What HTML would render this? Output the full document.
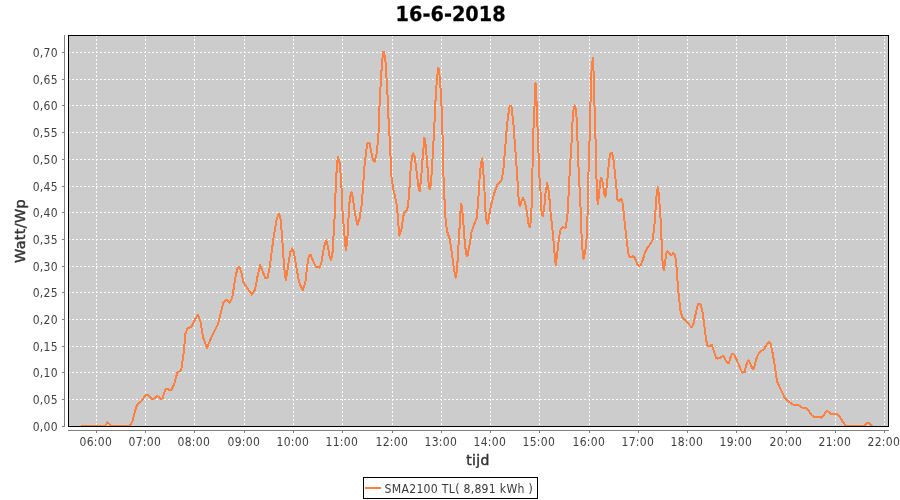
<!DOCTYPE html>
<html lang="nl"><head><meta charset="utf-8"><title>16-6-2018</title>
<style>
html,body{margin:0;padding:0;background:#fff;overflow:hidden}
svg{display:block}
text{filter:grayscale(1)}
.t{font-family:"DejaVu Sans Condensed","DejaVu Sans","Liberation Sans",sans-serif;font-size:12px;letter-spacing:0.3px;fill:#404040}
.a{font-family:"DejaVu Sans","Liberation Sans",sans-serif;font-size:14px;letter-spacing:0.3px;fill:#333;stroke:#333;stroke-width:0.45px}
.b{font-family:"DejaVu Sans Condensed","DejaVu Sans","Liberation Sans",sans-serif;font-weight:bold}
</style></head><body>
<svg width="900" height="500" viewBox="0 0 900 500">
<rect width="900" height="500" fill="#fff"/>
<text class="b" style="font-family:'DejaVu Sans',sans-serif" text-rendering="geometricPrecision" x="450.6" y="21" font-size="20.7" text-anchor="middle" fill="#000" stroke="#000" stroke-width="0.3" textLength="110" lengthAdjust="spacingAndGlyphs">16-6-2018</text>
<rect x="68" y="35" width="821" height="392" fill="#cccccc"/>
<g stroke="#fff" stroke-width="1" stroke-dasharray="2 2" shape-rendering="crispEdges" fill="none">
<line x1="96.5" y1="35" x2="96.5" y2="426"/>
<line x1="145.5" y1="35" x2="145.5" y2="426"/>
<line x1="194.5" y1="35" x2="194.5" y2="426"/>
<line x1="244.5" y1="35" x2="244.5" y2="426"/>
<line x1="293.5" y1="35" x2="293.5" y2="426"/>
<line x1="342.5" y1="35" x2="342.5" y2="426"/>
<line x1="392.5" y1="35" x2="392.5" y2="426"/>
<line x1="441.5" y1="35" x2="441.5" y2="426"/>
<line x1="490.5" y1="35" x2="490.5" y2="426"/>
<line x1="539.5" y1="35" x2="539.5" y2="426"/>
<line x1="589.5" y1="35" x2="589.5" y2="426"/>
<line x1="638.5" y1="35" x2="638.5" y2="426"/>
<line x1="687.5" y1="35" x2="687.5" y2="426"/>
<line x1="736.5" y1="35" x2="736.5" y2="426"/>
<line x1="786.5" y1="35" x2="786.5" y2="426"/>
<line x1="835.5" y1="35" x2="835.5" y2="426"/>
<line x1="884.5" y1="35" x2="884.5" y2="426"/>
<line x1="68" y1="399.5" x2="888" y2="399.5"/>
<line x1="68" y1="372.5" x2="888" y2="372.5"/>
<line x1="68" y1="346.5" x2="888" y2="346.5"/>
<line x1="68" y1="319.5" x2="888" y2="319.5"/>
<line x1="68" y1="292.5" x2="888" y2="292.5"/>
<line x1="68" y1="266.5" x2="888" y2="266.5"/>
<line x1="68" y1="239.5" x2="888" y2="239.5"/>
<line x1="68" y1="212.5" x2="888" y2="212.5"/>
<line x1="68" y1="186.5" x2="888" y2="186.5"/>
<line x1="68" y1="159.5" x2="888" y2="159.5"/>
<line x1="68" y1="132.5" x2="888" y2="132.5"/>
<line x1="68" y1="105.5" x2="888" y2="105.5"/>
<line x1="68" y1="79.5" x2="888" y2="79.5"/>
<line x1="68" y1="52.5" x2="888" y2="52.5"/>
</g>
<clipPath id="c"><rect x="68" y="35" width="821" height="392"/></clipPath>
<polyline clip-path="url(#c)" shape-rendering="crispEdges" fill="none" stroke="#ff8040" stroke-width="2" stroke-linejoin="round" stroke-linecap="round" points="82.1,426.0 104.7,426.0 107.9,422.4 111.3,426.0 129.6,426.0 132.3,421.9 134.9,411.2 137.3,404.4 141.2,401.4 144.7,396.0 147.4,394.6 151.9,398.7 154.5,398.4 157.2,395.7 160.7,398.7 162.5,398.4 165.2,389.5 167.5,388.9 168.8,390.0 171.4,389.8 174.1,384.5 177.3,372.4 181.2,370.2 183.0,357.8 184.2,349.0 185.1,334.7 187.3,328.5 191.4,326.7 194.9,319.6 197.9,314.8 200.2,320.5 202.9,336.5 206.8,348.1 211.8,336.5 218.0,324.1 220.7,313.4 223.4,302.7 226.4,299.7 229.6,302.7 232.3,297.4 235.3,277.8 237.6,268.0 239.4,267.1 241.2,271.6 243.3,282.2 247.4,288.5 251.9,294.7 255.1,289.4 258.1,273.3 260.2,265.0 262.7,271.5 265.3,278.3 267.5,278.3 269.8,266.2 273.3,239.5 276.9,218.1 279.0,213.7 280.5,219.0 282.2,237.7 284.0,266.2 285.8,280.1 287.6,269.7 290.2,251.9 292.4,248.4 294.2,253.7 296.5,268.0 299.1,282.2 302.6,290.2 305.4,282.2 307.2,266.2 308.9,255.5 310.7,254.6 313.4,261.7 316.0,267.1 319.6,267.6 321.4,262.6 324.1,246.6 326.2,240.4 328.0,246.6 329.8,257.3 331.2,259.9 332.6,251.9 333.8,230.6 335.1,209.2 335.7,185.8 336.9,166.3 337.8,156.5 339.6,162.7 341.0,178.7 342.2,200.1 342.4,209.2 344.0,230.6 345.8,250.2 347.2,241.3 348.6,216.4 349.9,196.5 351.5,192.1 352.9,198.3 355.2,214.6 357.5,224.9 359.6,218.1 361.8,203.9 362.7,191.2 364.5,166.3 366.3,150.2 367.5,142.8 369.5,143.1 371.2,151.1 373.0,160.0 374.6,161.8 376.6,153.8 378.4,136.0 379.0,121.0 379.7,100.5 380.9,80.9 381.9,64.0 383.1,52.3 384.0,52.3 385.7,63.1 386.6,79.1 387.7,98.7 388.4,116.5 389.1,129.0 389.8,141.4 390.8,162.7 391.5,176.9 393.0,187.6 394.7,194.7 397.0,206.5 399.3,235.9 401.5,228.8 403.8,213.7 407.3,209.2 409.0,196.0 410.7,168.0 412.2,155.6 413.4,153.5 414.8,157.4 417.0,175.2 418.8,189.4 419.6,191.2 421.1,178.7 422.8,155.6 424.4,137.8 425.9,146.7 427.7,169.8 428.9,187.6 430.0,189.4 431.2,180.5 432.5,159.1 433.9,134.2 434.6,120.0 435.2,105.8 436.4,86.3 437.5,73.8 438.4,67.6 439.6,75.6 440.5,88.0 441.8,111.2 442.3,129.0 442.6,137.8 443.2,169.8 444.4,196.5 445.1,214.6 446.9,230.6 449.6,238.6 451.7,251.9 454.0,269.7 455.8,277.7 457.0,269.7 458.1,251.9 459.4,230.6 460.6,209.2 461.3,203.5 462.9,216.4 464.7,241.3 466.1,253.7 467.4,256.4 469.5,244.8 471.8,230.6 474.1,224.4 476.6,218.1 478.0,203.9 478.8,191.2 480.0,171.6 481.3,161.8 482.2,158.3 483.2,169.8 484.5,191.2 485.2,209.2 486.6,221.7 487.8,223.8 489.3,214.6 491.4,203.9 494.3,193.0 497.5,184.1 501.4,180.5 503.2,171.6 504.9,152.0 506.2,136.0 506.9,126.0 508.1,116.2 509.6,106.4 511.4,106.4 512.6,116.2 513.7,126.9 514.4,137.8 516.2,160.9 517.4,178.7 518.3,194.7 519.2,204.2 520.2,206.0 521.6,200.3 522.9,198.2 524.7,201.2 527.0,212.8 528.8,226.1 530.0,227.6 531.1,218.1 531.8,200.3 532.5,168.0 533.1,137.8 534.6,103.7 535.0,85.9 535.5,83.3 536.2,91.3 537.0,114.4 537.8,134.0 538.4,150.0 539.3,175.2 540.5,191.2 541.2,209.2 542.6,216.4 544.2,209.2 545.3,194.7 547.1,183.2 548.9,192.0 550.6,212.8 552.8,232.4 554.6,253.7 555.8,265.3 557.2,253.7 559.0,237.7 560.8,228.8 562.6,227.0 565.6,227.9 567.4,216.4 568.5,196.0 569.9,168.0 571.3,146.7 572.2,130.7 572.7,118.0 573.6,109.1 574.7,105.5 575.9,109.1 576.7,118.8 577.4,137.8 578.4,164.5 579.7,191.2 580.4,203.9 581.2,227.0 582.1,246.6 583.6,259.1 585.2,251.9 586.6,237.7 587.5,216.4 588.0,192.3 588.9,156.7 589.8,134.0 590.2,116.2 590.9,84.1 591.8,64.6 593.1,58.3 593.6,73.5 594.4,101.9 595.3,134.0 595.7,144.2 596.4,176.3 597.3,197.6 597.8,204.4 599.0,195.8 600.1,181.6 601.4,177.7 602.8,183.4 604.4,194.1 605.4,196.7 606.7,186.9 608.1,170.9 609.4,158.5 610.6,153.1 612.0,152.8 613.5,160.2 615.1,174.5 616.5,188.7 617.4,199.4 618.8,201.2 620.9,198.5 622.3,201.2 623.7,212.5 625.3,228.5 626.7,240.9 628.1,251.6 629.0,256.6 631.1,257.3 633.5,256.0 635.2,258.7 637.4,264.1 639.1,266.2 640.9,264.9 643.1,258.7 645.4,251.6 647.7,247.2 650.7,243.6 652.8,239.1 654.3,226.7 655.5,210.0 656.5,195.8 657.8,187.3 658.8,194.1 659.7,206.5 660.9,223.1 661.7,244.5 662.6,262.3 663.7,270.3 664.9,264.1 666.2,253.4 667.6,251.2 669.4,253.4 671.2,255.5 673.3,253.0 674.7,254.3 676.0,260.5 677.0,273.0 677.8,285.7 679.0,298.1 680.5,310.6 682.2,317.3 685.8,320.4 689.4,324.8 691.7,327.5 693.8,323.0 696.1,311.5 698.3,303.5 700.6,304.4 702.3,310.6 704.5,326.6 706.3,340.8 707.7,346.2 709.5,346.5 711.6,344.8 713.4,349.7 716.0,357.7 717.8,358.6 720.0,357.8 722.7,356.0 724.4,357.8 727.1,362.6 728.9,362.8 730.7,356.9 732.1,353.9 734.2,354.6 736.5,359.6 739.6,366.7 742.2,372.6 744.6,372.4 746.3,364.9 748.5,359.9 750.2,363.1 752.4,368.5 753.8,368.5 755.6,361.4 757.4,356.0 760.0,351.6 763.6,349.8 766.3,345.3 768.9,341.8 770.7,343.6 772.5,352.5 774.3,363.1 775.7,372.0 776.9,380.9 779.6,387.2 782.3,392.5 784.9,398.4 788.5,401.4 793.0,404.6 798.3,404.9 801.9,407.6 806.3,407.6 809.0,411.2 811.6,415.3 814.3,416.9 818.8,416.9 821.8,417.8 824.1,414.7 826.8,410.8 828.9,412.1 831.2,413.8 836.5,413.8 840.1,417.4 842.8,421.9 845.4,425.1 847.2,426.0 864.1,426.0 866.8,423.3 869.1,422.7 872.2,426.0"/>
<rect x="68.5" y="35.5" width="820" height="391" fill="none" stroke="#000" stroke-width="1" shape-rendering="crispEdges"/>
<g stroke="#808080" stroke-width="1" shape-rendering="crispEdges">
<line x1="64.5" y1="35" x2="64.5" y2="427"/>
<line x1="68" y1="430.5" x2="889" y2="430.5"/>
<line x1="96.5" y1="430" x2="96.5" y2="433"/>
<line x1="145.5" y1="430" x2="145.5" y2="433"/>
<line x1="194.5" y1="430" x2="194.5" y2="433"/>
<line x1="244.5" y1="430" x2="244.5" y2="433"/>
<line x1="293.5" y1="430" x2="293.5" y2="433"/>
<line x1="342.5" y1="430" x2="342.5" y2="433"/>
<line x1="392.5" y1="430" x2="392.5" y2="433"/>
<line x1="441.5" y1="430" x2="441.5" y2="433"/>
<line x1="490.5" y1="430" x2="490.5" y2="433"/>
<line x1="539.5" y1="430" x2="539.5" y2="433"/>
<line x1="589.5" y1="430" x2="589.5" y2="433"/>
<line x1="638.5" y1="430" x2="638.5" y2="433"/>
<line x1="687.5" y1="430" x2="687.5" y2="433"/>
<line x1="736.5" y1="430" x2="736.5" y2="433"/>
<line x1="786.5" y1="430" x2="786.5" y2="433"/>
<line x1="835.5" y1="430" x2="835.5" y2="433"/>
<line x1="884.5" y1="430" x2="884.5" y2="433"/>
<line x1="62" y1="426.5" x2="65" y2="426.5"/>
<line x1="62" y1="399.5" x2="65" y2="399.5"/>
<line x1="62" y1="372.5" x2="65" y2="372.5"/>
<line x1="62" y1="346.5" x2="65" y2="346.5"/>
<line x1="62" y1="319.5" x2="65" y2="319.5"/>
<line x1="62" y1="292.5" x2="65" y2="292.5"/>
<line x1="62" y1="266.5" x2="65" y2="266.5"/>
<line x1="62" y1="239.5" x2="65" y2="239.5"/>
<line x1="62" y1="212.5" x2="65" y2="212.5"/>
<line x1="62" y1="186.5" x2="65" y2="186.5"/>
<line x1="62" y1="159.5" x2="65" y2="159.5"/>
<line x1="62" y1="132.5" x2="65" y2="132.5"/>
<line x1="62" y1="105.5" x2="65" y2="105.5"/>
<line x1="62" y1="79.5" x2="65" y2="79.5"/>
<line x1="62" y1="52.5" x2="65" y2="52.5"/>
</g>
<g class="t">
<text x="95.8" y="446" text-anchor="middle">06:00</text>
<text x="144.8" y="446" text-anchor="middle">07:00</text>
<text x="193.8" y="446" text-anchor="middle">08:00</text>
<text x="243.8" y="446" text-anchor="middle">09:00</text>
<text x="292.8" y="446" text-anchor="middle">10:00</text>
<text x="341.8" y="446" text-anchor="middle">11:00</text>
<text x="391.8" y="446" text-anchor="middle">12:00</text>
<text x="440.8" y="446" text-anchor="middle">13:00</text>
<text x="489.8" y="446" text-anchor="middle">14:00</text>
<text x="538.8" y="446" text-anchor="middle">15:00</text>
<text x="588.8" y="446" text-anchor="middle">16:00</text>
<text x="637.8" y="446" text-anchor="middle">17:00</text>
<text x="686.8" y="446" text-anchor="middle">18:00</text>
<text x="735.8" y="446" text-anchor="middle">19:00</text>
<text x="785.8" y="446" text-anchor="middle">20:00</text>
<text x="834.8" y="446" text-anchor="middle">21:00</text>
<text x="883.8" y="446" text-anchor="middle">22:00</text>
<text x="57.9" y="431.0" text-anchor="end">0,00</text>
<text x="57.9" y="404.0" text-anchor="end">0,05</text>
<text x="57.9" y="377.0" text-anchor="end">0,10</text>
<text x="57.9" y="351.0" text-anchor="end">0,15</text>
<text x="57.9" y="324.0" text-anchor="end">0,20</text>
<text x="57.9" y="297.0" text-anchor="end">0,25</text>
<text x="57.9" y="271.0" text-anchor="end">0,30</text>
<text x="57.9" y="244.0" text-anchor="end">0,35</text>
<text x="57.9" y="217.0" text-anchor="end">0,40</text>
<text x="57.9" y="191.0" text-anchor="end">0,45</text>
<text x="57.9" y="164.0" text-anchor="end">0,50</text>
<text x="57.9" y="137.0" text-anchor="end">0,55</text>
<text x="57.9" y="110.0" text-anchor="end">0,60</text>
<text x="57.9" y="84.0" text-anchor="end">0,65</text>
<text x="57.9" y="57.0" text-anchor="end">0,70</text>
</g>
<text class="a" x="478" y="464.5" text-anchor="middle">tijd</text>
<text class="a" transform="translate(25.2,231) rotate(-90)" text-anchor="middle" textLength="64" lengthAdjust="spacingAndGlyphs">Watt/Wp</text>
<rect x="363.5" y="477.5" width="174" height="21" fill="#fff" stroke="#000" stroke-width="1" shape-rendering="crispEdges"/>
<line x1="365" y1="488" x2="381" y2="488" stroke="#ff8040" stroke-width="2" shape-rendering="crispEdges"/>
<text class="t" x="384.5" y="493" style="font-size:13px;fill:#383838" textLength="148.5" lengthAdjust="spacingAndGlyphs">SMA2100 TL( 8,891 kWh )</text>
</svg>
</body></html>
